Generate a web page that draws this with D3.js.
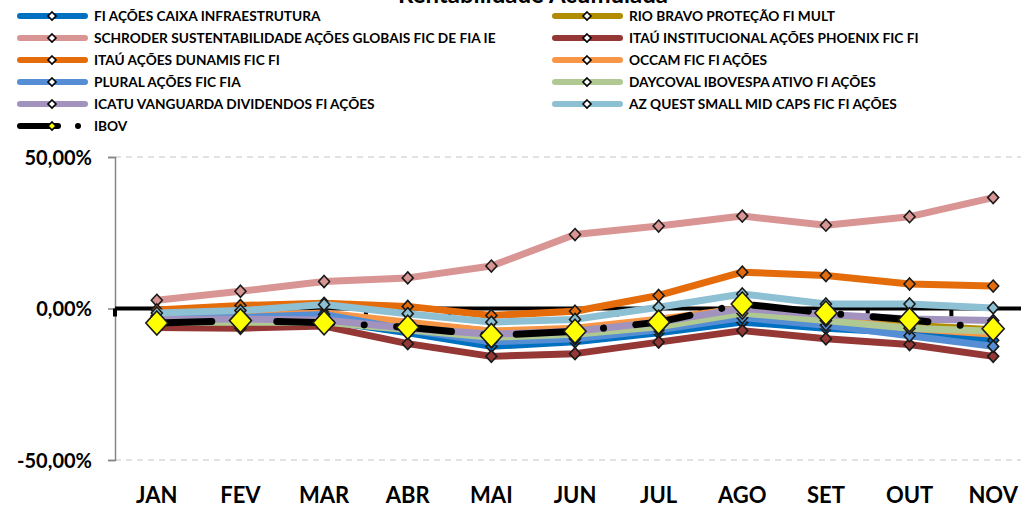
<!DOCTYPE html>
<html>
<head>
<meta charset="utf-8">
<script src="https://cdn.jsdelivr.net/npm/d3@7"></script>
<style>
  body { margin: 0; background: #fff; }
  svg { display: block; font-family: Lato, "Open Sans", sans-serif; }
</style>
</head>
<body>
<div id="chart"></div>
<script>
// categories
const months = ['JAN','FEV','MAR','ABR','MAI','JUN','JUL','AGO','SET','OUT','NOV'];

// series values (% acumulado)
const caixaInfra   = [-3.0, -4.2, -4.0, -8.0, -12.5, -11.0, -8.0, -4.5, -6.5, -8.0, -10.5];
const rioBravo     = [-3.5, -3.0, -3.0, -5.0, -7.5, -7.0, -4.0, 0.0, -3.0, -5.5, -7.0];
const schroder     = [2.7, 5.7, 8.9, 10.1, 14.0, 24.4, 27.2, 30.5, 27.5, 30.3, 36.6];
const itauPhoenix  = [-6.3, -6.5, -5.8, -11.6, -15.8, -14.9, -11.1, -7.3, -10.0, -11.9, -15.8];
const itauDunamis  = [-0.5, 1.0, 1.7, 0.7, -2.3, -0.9, 4.3, 12.0, 10.9, 8.1, 7.4];
const occam        = [-2.5, -2.5, -1.5, -4.5, -7.5, -6.5, -3.5, 0.0, -3.5, -6.5, -8.5];
const plural       = [-2.5, -3.0, -2.0, -7.0, -11.0, -10.0, -7.0, -3.0, -5.5, -9.0, -12.5];
const daycoval     = [-4.5, -4.5, -4.5, -7.0, -9.5, -8.5, -6.0, -1.5, -4.0, -6.5, -7.5];
const icatu        = [-3.6, -3.5, -3.8, -6.5, -8.5, -7.5, -4.5, 0.0, -2.0, -3.5, -4.0];
const azQuest      = [-1.5, -0.7, 1.3, -1.7, -4.5, -3.6, 0.4, 4.8, 1.5, 1.5, 0.2];
const ibov         = [-4.8, -4.0, -4.7, -6.2, -8.9, -7.5, -4.5, 1.5, -1.5, -3.7, -6.7];

// series names in legend order (row by row, two columns)
const seriesNames = [
  'FI AÇÕES CAIXA INFRAESTRUTURA',
  'RIO BRAVO PROTEÇÃO FI MULT',
  'SCHRODER SUSTENTABILIDADE AÇÕES GLOBAIS FIC DE FIA IE',
  'ITAÚ INSTITUCIONAL AÇÕES PHOENIX FIC FI',
  'ITAÚ AÇÕES DUNAMIS FIC FI',
  'OCCAM FIC FI AÇÕES',
  'PLURAL AÇÕES FIC FIA',
  'DAYCOVAL IBOVESPA ATIVO FI AÇÕES',
  'ICATU VANGUARDA DIVIDENDOS FI AÇÕES',
  'AZ QUEST SMALL MID CAPS FIC FI AÇÕES',
  'IBOV'
];
const seriesValues = [caixaInfra, rioBravo, schroder, itauPhoenix, itauDunamis,
  occam, plural, daycoval, icatu, azQuest, ibov];
const seriesColors = ['#0070C0','#B08C00','#D99594','#953735','#E46C0A',
  '#F79646','#558ED5','#B0C992','#A193BE','#8EC0D4','#000000'];

// y axis ticks
const yTicks = [50, 0, -50];
const yTickLabels = ['50,00%', '0,00%', '-50,00%'];

const title = 'Rentabilidade Acumulada';

// setup / layout
const width = 1021;
const height = 508;
const plot = {l: 115, r: 1035, t: 157, b: 460};

const series = seriesNames.map((name, i) => ({
  name: name,
  color: seriesColors[i],
  ibov: name === 'IBOV',
  values: seriesValues[i].map((v, j) => ({month: months[j], value: v}))
}));

const scaleX = d3.scalePoint().domain(months).range([plot.l, plot.r]).padding(0.5);
const scaleY = d3.scaleLinear().domain([-50, 50]).range([plot.b, plot.t]);
const step = scaleX.step();

const svg = d3.select('#chart')
  .append('svg')
  .attr('width', width)
  .attr('height', height);

// title (only its lower edge shows, like the reference)
svg.append('text')
  .attr('x', 533)
  .attr('y', 2.5)
  .attr('text-anchor', 'middle')
  .attr('font-size', 24)
  .attr('font-weight', 700)
  .attr('fill', '#000')
  .text(title);

// dashed gridlines
svg.append('g')
  .selectAll('line')
  .data(yTicks.filter(d => d !== 0))
  .join('line')
  .attr('x1', plot.l)
  .attr('x2', plot.r)
  .attr('y1', d => scaleY(d))
  .attr('y2', d => scaleY(d))
  .attr('stroke', '#D9D9D9')
  .attr('stroke-width', 1.3)
  .attr('stroke-dasharray', '6,5');

// Y axis
const yAxis = svg.append('g')
  .attr('transform', `translate(${plot.l},0)`)
  .call(d3.axisLeft(scaleY).tickValues(yTicks).tickSize(7).tickFormat((d, i) => yTickLabels[i]));
yAxis.selectAll('path, line').attr('stroke', '#868686').attr('stroke-width', 1.5);
yAxis.selectAll('text')
  .attr('font-size', 20)
  .attr('font-weight', 700)
  .attr('font-family', 'Lato, sans-serif')
  .attr('fill', '#000')
  .attr('x', -23)
  .attr('dy', '0.36em');

// X axis crossing at zero, ticks at category boundaries
const xAxisG = svg.append('g').attr('transform', `translate(0,${scaleY(0)})`);
xAxisG.append('line')
  .attr('x1', plot.l)
  .attr('x2', plot.r)
  .attr('stroke', '#000')
  .attr('stroke-width', 4);
xAxisG.selectAll('.tick')
  .data(d3.range(months.length + 1))
  .join('line')
  .attr('x1', d => plot.l + d * step)
  .attr('x2', d => plot.l + d * step)
  .attr('y1', 0)
  .attr('y2', 8)
  .attr('stroke', '#000')
  .attr('stroke-width', 4);

// month labels at the bottom
svg.append('g')
  .selectAll('text')
  .data(months)
  .join('text')
  .attr('x', d => scaleX(d))
  .attr('y', 503)
  .attr('text-anchor', 'middle')
  .attr('font-size', 22)
  .attr('font-weight', 700)
  .attr('fill', '#000')
  .text(d => d);

const line = d3.line()
  .x(d => scaleX(d.month))
  .y(d => scaleY(d.value));

const diamond = (w, h) => `M0,${-h/2}L${w/2},0L0,${h/2}L${-w/2},0Z`;

// series lines and markers
series.forEach(s => {
  const g = svg.append('g');
  g.append('path')
    .datum(s.values)
    .attr('fill', 'none')
    .attr('stroke', s.color)
    .attr('stroke-width', 7)
    .attr('stroke-linecap', s.ibov ? 'round' : 'butt')
    .attr('stroke-linejoin', 'round')
    .attr('stroke-dasharray', s.ibov ? '55,32.5,0.01,32.5' : null)
    .attr('d', line);

  g.selectAll('path.marker')
    .data(s.values)
    .join('path')
    .attr('class', 'marker')
    .attr('transform', d => `translate(${scaleX(d.month)},${scaleY(d.value)})`)
    .attr('d', s.ibov ? diamond(22, 24) : diamond(11, 12))
    .attr('fill', s.ibov ? '#FFFF00' : s.color)
    .attr('stroke', '#1a1a1a')
    .attr('stroke-width', 1.6);
});

// legend, two columns
const legend = svg.append('g');
series.forEach((s, i) => {
  const col = i % 2;
  const row = Math.floor(i / 2);
  const x0 = col === 0 ? 17 : 552;
  const y0 = 16 + row * 22;
  const item = legend.append('g').attr('transform', `translate(${x0},${y0})`);
  item.append('line')
    .attr('x1', 3)
    .attr('x2', 68)
    .attr('stroke', s.color)
    .attr('stroke-width', 6)
    .attr('stroke-linecap', 'round')
    .attr('stroke-dasharray', s.ibov ? '38,20,0.01,20' : null);
  item.append('path')
    .attr('transform', 'translate(35,0)')
    .attr('d', diamond(8, 8))
    .attr('fill', s.ibov ? '#FFFF00' : '#fff')
    .attr('stroke', '#000')
    .attr('stroke-width', 1.6);
  item.append('text')
    .attr('x', 77)
    .attr('dy', '0.36em')
    .attr('font-size', 13.7)
    .attr('font-weight', 700)
    .attr('fill', '#000')
    .text(s.name);
});
</script>
</body>
</html>
